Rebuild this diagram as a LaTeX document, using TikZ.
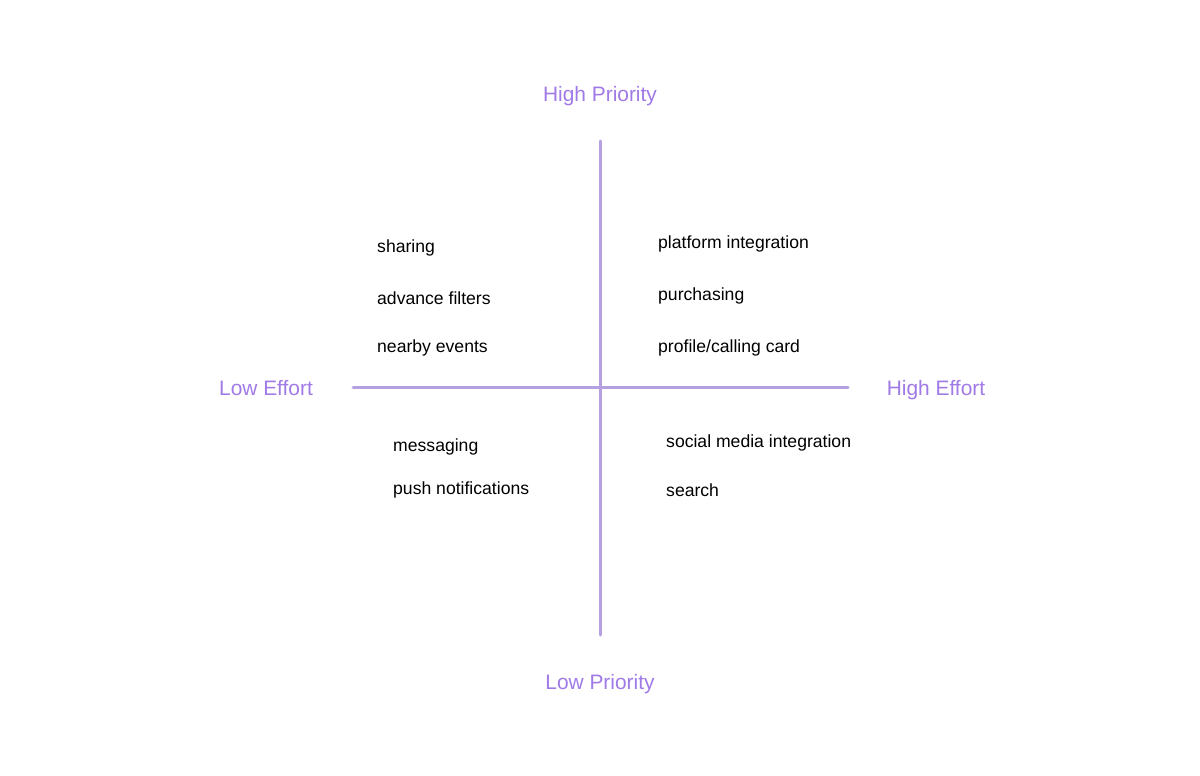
\documentclass[tikz,border=0pt]{standalone}
\usepackage{fontspec}
\setmainfont{Liberation Sans}
\definecolor{axiscol}{RGB}{181,160,226}
\definecolor{labelcol}{RGB}{160,122,230}
\begin{document}
\begin{tikzpicture}[x=1pt,y=-1pt,
  axislabel/.style={text=labelcol,font=\fontsize{20.9}{24}\selectfont,inner sep=0pt,anchor=base},
  item/.style={text=black,font=\fontsize{17.6}{20}\selectfont,inner sep=0pt,anchor=base west},
  axisline/.style={draw=axiscol,line width=3pt,line cap=round}]
\useasboundingbox (0,0) rectangle (1200,776);
\fill[white] (0,0) rectangle (1200,776);
% axes
\coordinate (top) at (600,141);
\coordinate (bottom) at (600,635);
\coordinate (left) at (353,387);
\coordinate (right) at (848,387);
\draw[axisline] (top) -- (bottom);
\draw[axisline] (left) -- (right);
% axis labels
\node[axislabel] (hp) at (600,102) {High Priority};
\node[axislabel] (lp) at (600,689) {Low Priority};
\node[axislabel] (le) at (266,395) {Low Effort};
\node[axislabel] (he) at (936,395) {High Effort};
% top left
\node[item] (sharing) at (377,252) {sharing};
\node[item] (filters) at (377,304) {advance filters};
\node[item] (nearby) at (377,352) {nearby events};
% top right
\node[item] (platform) at (658,248) {platform integration};
\node[item] (purchasing) at (658,300) {purchasing};
\node[item] (profile) at (658,352) {profile/calling card};
% bottom left
\node[item] (messaging) at (393,451) {messaging};
\node[item] (push) at (393,494) {push notifications};
% bottom right
\node[item] (social) at (666,447) {social media integration};
\node[item] (search) at (666,496) {search};
\end{tikzpicture}
\end{document}
